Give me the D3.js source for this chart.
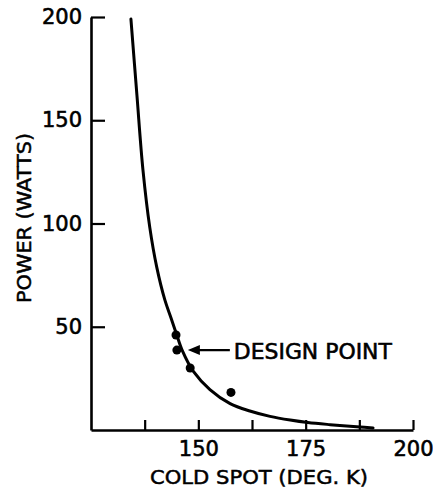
<!DOCTYPE html>
<html>
<head>
<meta charset="utf-8">
<script src="https://cdn.jsdelivr.net/npm/d3@7"></script>
<style>
  body { margin: 0; background: #fff; }
  svg text { font-family: "DejaVu Sans", sans-serif; fill: #000; }
</style>
</head>
<body>
<svg id="chart" width="433" height="489"></svg>
<script>
// curve: [cold spot K, power W]
const curveTemp  = [134.3, 135.7, 137.1, 138.7, 140.3, 142.2, 143.6, 144.9, 146.3, 148.8, 152.7, 157.4, 162.0, 166.7, 171.4, 175.5, 180.7, 187.7, 190.7];
const curvePower = [199,   162,   126,   98,    79,    63,    54.5,  46.5,  38.3,  28.5,  19.6,  12.8,  9.2,   6.6,   4.8,   3.6,   2.6,   1.5,   1.0];

// measured points
const pointTemp  = [144.8, 145.0, 148.1, 157.6];
const pointPower = [46.0,  38.7,  30.0,  18.2];

const designPoint = [145.0, 38.7];
const designLabel = "DESIGN POINT";

const xTicks = [137.5, 150, 162.5, 175, 187.5, 200];
const xLabels = [150, 175, 200];
const yTicks = [50, 100, 150, 200];

const xTitle = "COLD SPOT (DEG. K)";
const yTitle = "POWER (WATTS)";

const margin = {top: 17, right: 20, bottom: 59, left: 91};
const width = 413 - margin.left,
      height = 430 - margin.top;

const svg = d3.select("#chart");
const g = svg.append("g")
    .attr("transform", "translate(" + margin.left + "," + margin.top + ")");

const x = d3.scaleLinear().domain([125, 200]).range([0, width]);
const y = d3.scaleLinear().domain([0, 200]).range([height, 0]);

// axes
const xAxis = d3.axisBottom(x)
    .tickValues(xTicks)
    .tickSizeInner(-10)
    .tickSizeOuter(0)
    .tickPadding(11)
    .tickFormat(d => xLabels.indexOf(d) >= 0 ? d : "");

const yAxis = d3.axisLeft(y)
    .tickValues(yTicks)
    .tickSizeInner(-14)
    .tickSizeOuter(0)
    .tickPadding(9);

const gx = g.append("g")
    .attr("transform", "translate(0," + height + ")")
    .call(xAxis);

const gy = g.append("g").call(yAxis);

[gx, gy].forEach(a => {
  a.select(".domain").attr("stroke", "#000").attr("stroke-width", 2.6);
  a.selectAll(".tick line").attr("stroke", "#000").attr("stroke-width", 2.2);
  a.selectAll(".tick text")
    .attr("font-size", 21)
    .attr("fill", "#000")
    .attr("stroke", "#000")
    .attr("stroke-width", 0.6)
    .style("font-family", "DejaVu Sans, sans-serif");
});

// curve
const curveData = curveTemp.map((t, i) => [t, curvePower[i]]);
const line = d3.line()
    .x(d => x(d[0]))
    .y(d => y(d[1]))
    .curve(d3.curveCatmullRom.alpha(0.5));

g.append("path")
    .datum(curveData)
    .attr("d", line)
    .attr("fill", "none")
    .attr("stroke", "#000")
    .attr("stroke-width", 3)
    .attr("stroke-linecap", "round");

// points
g.selectAll(".pt")
  .data(pointTemp.map((t, i) => [t, pointPower[i]]))
  .enter().append("circle")
    .attr("class", "pt")
    .attr("cx", d => x(d[0]))
    .attr("cy", d => y(d[1]))
    .attr("r", 4.5)
    .attr("fill", "#000");

// design point arrow + label
const arrowTip = x(designPoint[0]) + 11,
      arrowTail = x(designPoint[0]) + 53,
      ay = y(designPoint[1]);

g.append("line")
    .attr("x1", arrowTip + 4).attr("x2", arrowTail)
    .attr("y1", ay).attr("y2", ay)
    .attr("stroke", "#000").attr("stroke-width", 2.4);

g.append("path")
    .attr("d", d3.line()([[arrowTip, ay], [arrowTip + 12, ay - 5], [arrowTip + 12, ay + 5]]))
    .attr("fill", "#000");

g.append("text")
    .attr("x", arrowTail + 4)
    .attr("y", ay + 8.5)
    .attr("font-size", 22)
    .attr("stroke", "#000")
    .attr("stroke-width", 0.6)
    .attr("textLength", 158)
    .attr("lengthAdjust", "spacingAndGlyphs")
    .text(designLabel);

// axis titles
svg.append("text")
    .attr("x", 150)
    .attr("y", 484)
    .attr("font-size", 20)
    .attr("stroke", "#000")
    .attr("stroke-width", 0.5)
    .attr("textLength", 218)
    .attr("lengthAdjust", "spacingAndGlyphs")
    .text(xTitle);

svg.append("text")
    .attr("transform", "translate(31,218) rotate(-90)")
    .attr("text-anchor", "middle")
    .attr("font-size", 20)
    .attr("stroke", "#000")
    .attr("stroke-width", 0.5)
    .attr("textLength", 170)
    .attr("lengthAdjust", "spacingAndGlyphs")
    .text(yTitle);
</script>
</body>
</html>
